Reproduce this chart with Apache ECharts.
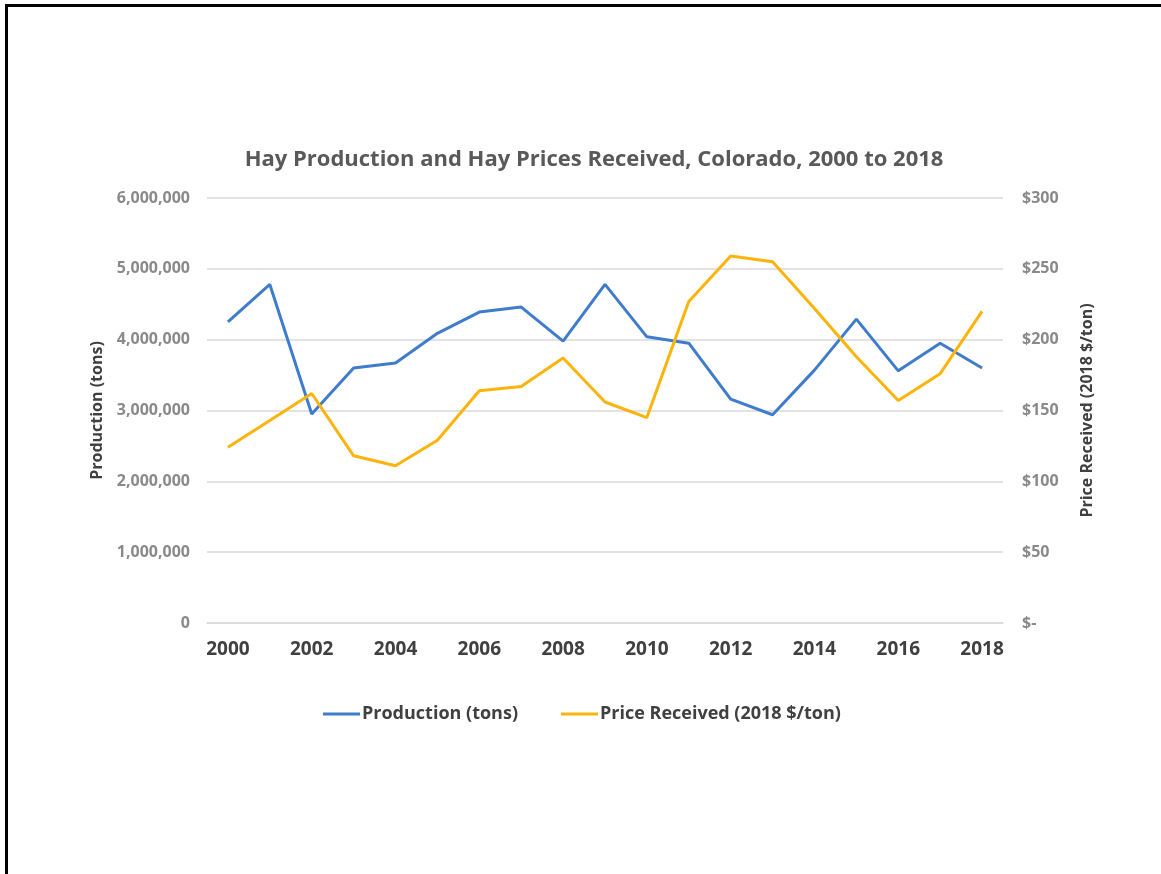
<!DOCTYPE html>
<html>
<head>
<meta charset="utf-8">
<script src="https://cdn.jsdelivr.net/npm/echarts@6/dist/echarts.min.js"></script>
<style>
  html, body { margin: 0; padding: 0; background: #fff; }
  #frame {
    position: absolute; left: 5px; top: 4px; width: 1160px; height: 874px;
    border-top: 3px solid #000; border-left: 3px solid #000; box-sizing: border-box;
  }
  #chart { position: absolute; left: 0; top: 0; width: 1161px; height: 874px; }
</style>
</head>
<body>
<div id="frame"></div>
<div id="chart"></div>
<script>
// Colorado hay, 2000-2018
const years = ['2000','2001','2002','2003','2004','2005','2006','2007','2008','2009',
               '2010','2011','2012','2013','2014','2015','2016','2017','2018'];
// Production, tons
const production = [4250000, 4780000, 2950000, 3600000, 3670000, 4090000, 4390000, 4460000,
                    3980000, 4780000, 4040000, 3950000, 3160000, 2940000, 3570000, 4290000,
                    3560000, 3950000, 3600000];
// Price received, 2018 $/ton
const price = [124, 143, 162, 118, 111, 129, 164, 167, 187, 156,
               145, 227, 259, 255, 222, 188, 157, 176, 220];

const FONT = '"Open Sans", "Liberation Sans", sans-serif';
const chart = echarts.init(document.getElementById('chart'), null, { renderer: 'canvas' });

const fmtTons = v => v.toLocaleString('en-US');
const fmtUsd = v => (v === 0 ? '$-' : '$' + v);

chart.setOption({
  animation: false,
  textStyle: { fontFamily: FONT },
  title: {
    text: 'Hay Production and Hay Prices Received, Colorado, 2000 to 2018',
    left: 589, top: 144, textAlign: 'center',
    textStyle: { fontFamily: FONT, fontSize: 22, fontWeight: 'bold', color: '#595959' }
  },
  legend: {
    left: 318, top: 700,
    itemWidth: 37, itemHeight: 3, itemGap: 43,
    icon: 'rect',
    textStyle: { fontFamily: FONT, fontSize: 18, fontWeight: 'bold', color: '#404040', padding: [0, 0, 0, -3] },
    data: ['Production (tons)', 'Price Received (2018 $/ton)']
  },
  grid: { left: 207, right: 158, top: 198, bottom: 251, containLabel: false },
  xAxis: {
    type: 'category', data: years, boundaryGap: true,
    axisLine: { show: true, lineStyle: { color: '#d9d9d9', width: 1.5 } },
    axisTick: { show: false },
    axisLabel: {
      interval: 1, margin: 17,
      fontFamily: FONT, fontSize: 19, fontWeight: 'bold', color: '#404040'
    }
  },
  yAxis: [
    {
      type: 'value', min: 0, max: 6000000, interval: 1000000,
      name: 'Production (tons)', nameLocation: 'middle', nameGap: 102, nameRotate: 90,
      nameTextStyle: { fontFamily: FONT, fontSize: 16, fontWeight: 'bold', color: '#404040' },
      axisLine: { show: false }, axisTick: { show: false },
      axisLabel: { margin: 17, fontFamily: FONT, fontSize: 16, fontWeight: 'bold', color: '#8a8a8a',
                   formatter: fmtTons },
      splitLine: { show: true, lineStyle: { color: '#d9d9d9', width: 1.5 } }
    },
    {
      type: 'value', min: 0, max: 300, interval: 50, position: 'right',
      name: 'Price Received (2018 $/ton)', nameLocation: 'middle', nameGap: 76, nameRotate: 90,
      nameTextStyle: { fontFamily: FONT, fontSize: 16, fontWeight: 'bold', color: '#404040' },
      axisLine: { show: false }, axisTick: { show: false },
      axisLabel: { margin: 19, fontFamily: FONT, fontSize: 16, fontWeight: 'bold', color: '#8a8a8a',
                   formatter: fmtUsd },
      splitLine: { show: false }
    }
  ],
  series: [
    {
      name: 'Production (tons)', type: 'line', yAxisIndex: 0, data: production,
      symbol: 'none', lineStyle: { color: '#3f7ccb', width: 3 }, itemStyle: { color: '#3f7ccb' }
    },
    {
      name: 'Price Received (2018 $/ton)', type: 'line', yAxisIndex: 1, data: price,
      symbol: 'none', lineStyle: { color: '#fbb40c', width: 3 }, itemStyle: { color: '#fbb40c' }
    }
  ]
});
</script>
</body>
</html>
